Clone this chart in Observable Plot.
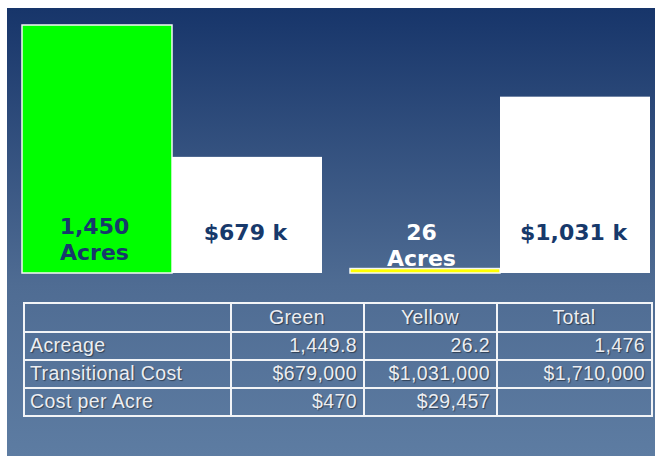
<!DOCTYPE html>
<html>
<head>
<meta charset="utf-8">
<script src="https://cdn.jsdelivr.net/npm/d3@7"></script>
<script src="https://cdn.jsdelivr.net/npm/@observablehq/plot@0.6"></script>
<style>
  html, body { margin: 0; padding: 0; background: #ffffff; }
  #panel {
    position: absolute; left: 7px; top: 8px; width: 648px; height: 448px;
    background: linear-gradient(to bottom, #17356a 0%, #4f6c93 62%, #5d7ca2 100%);
    overflow: hidden;
  }
  #chart { position: absolute; left: 0; top: 0; }
  #tbl {
    position: absolute; left: 16px; top: 294px; width: 628px; height: 114px;
    border-collapse: collapse; table-layout: fixed;
    font-family: "Liberation Sans", Arial, sans-serif; font-size: 19.5px; letter-spacing: 0.4px;
    color: #eceef2; text-shadow: 1px 1px 1px rgba(0,0,0,0.45);
  }
  #tbl td { border: 2px solid #f2f4f7; padding: 0 6px 0 5px; white-space: nowrap; line-height: 1; }
  #tbl tr.head td { text-align: center; }
  #tbl td.num { text-align: right; }
  #tbl td.lab { text-align: left; }
</style>
</head>
<body>
<div id="panel">
  <div id="chart"></div>
  <table id="tbl"></table>
</div>
<script>
// ---- data ----
const groups = ["Green", "Yellow"];
const acres = [1450, 26];
const costK = [679, 1031];
const acreLabels = ["1,450\nAcres", "26\nAcres"];
const costLabels = ["$679 k", "$1,031 k"];
const barColors = ["#00ff00", "#ffff00"];
const acreLabelColors = ["#17396b", "#ffffff"];

const tableHeader = ["", "Green", "Yellow", "Total"];
const rowLabels = ["Acreage", "Transitional Cost", "Cost per Acre"];
const greenCol = ["1,449.8", "$679,000", "$470"];
const yellowCol = ["26.2", "$1,031,000", "$29,457"];
const totalCol = ["1,476", "$1,710,000", ""];

// ---- build bar table ----
const bars = groups.flatMap((g, i) => [
  {group: g, kind: "Acres", value: acres[i], fill: barColors[i], stroke: "#f4f7f4", label: acreLabels[i], labelColor: acreLabelColors[i]},
  {group: g, kind: "Cost", value: costK[i], fill: "#ffffff", stroke: "none", label: costLabels[i], labelColor: "#17396b"}
]);

const font = {fontFamily: "DejaVu Sans, Verdana, sans-serif", fontSize: 22, fontWeight: "bold", lineHeight: 1.18};

const chart = Plot.plot({
  width: 648,
  height: 280,
  marginTop: 17,
  marginBottom: 15,
  marginLeft: 15,
  marginRight: 4,
  style: {background: "transparent", overflow: "visible"},
  fx: {domain: groups, paddingInner: 0.085, paddingOuter: 0, axis: null, label: null},
  x: {domain: ["Acres", "Cost"], padding: 0, axis: null, label: null},
  y: {domain: [0, 1450], axis: null},
  color: {type: "identity"},
  marks: [
    Plot.barY(bars, {fx: "group", x: "kind", y: "value", fill: "fill", stroke: "stroke", strokeWidth: 1.5}),
    Plot.text(bars.filter(d => d.kind === "Acres" && d.group === "Green"),
      {fx: "group", x: "kind", y: 0, text: "label", fill: "labelColor", lineAnchor: "middle", dx: -3, dy: -35, ...font}),
    Plot.text(bars.filter(d => d.kind === "Acres" && d.group === "Yellow"),
      {fx: "group", x: "kind", y: 0, text: "label", fill: "labelColor", lineAnchor: "middle", dx: -4, dy: -29, ...font}),
    Plot.text(bars.filter(d => d.kind === "Cost"),
      {fx: "group", x: "kind", y: 0, text: "label", fill: "labelColor", lineAnchor: "middle", dx: -2, dy: -42, ...font})
  ]
});
document.getElementById("chart").appendChild(chart);

// ---- table ----
const tbl = document.getElementById("tbl");
const colgroup = document.createElement("colgroup");
[207, 133, 133, 155].forEach(w => { const c = document.createElement("col"); c.style.width = w + "px"; colgroup.appendChild(c); });
tbl.appendChild(colgroup);
const head = document.createElement("tr");
head.className = "head";
head.style.height = "29px";
tableHeader.forEach(h => { const td = document.createElement("td"); td.textContent = h; head.appendChild(td); });
tbl.appendChild(head);
rowLabels.forEach((r, i) => {
  const tr = document.createElement("tr");
  tr.style.height = "28px";
  const cells = [r, greenCol[i], yellowCol[i], totalCol[i]];
  cells.forEach((v, j) => {
    const td = document.createElement("td");
    td.textContent = v;
    td.className = j === 0 ? "lab" : "num";
    tr.appendChild(td);
  });
  tbl.appendChild(tr);
});
</script>
</body>
</html>
